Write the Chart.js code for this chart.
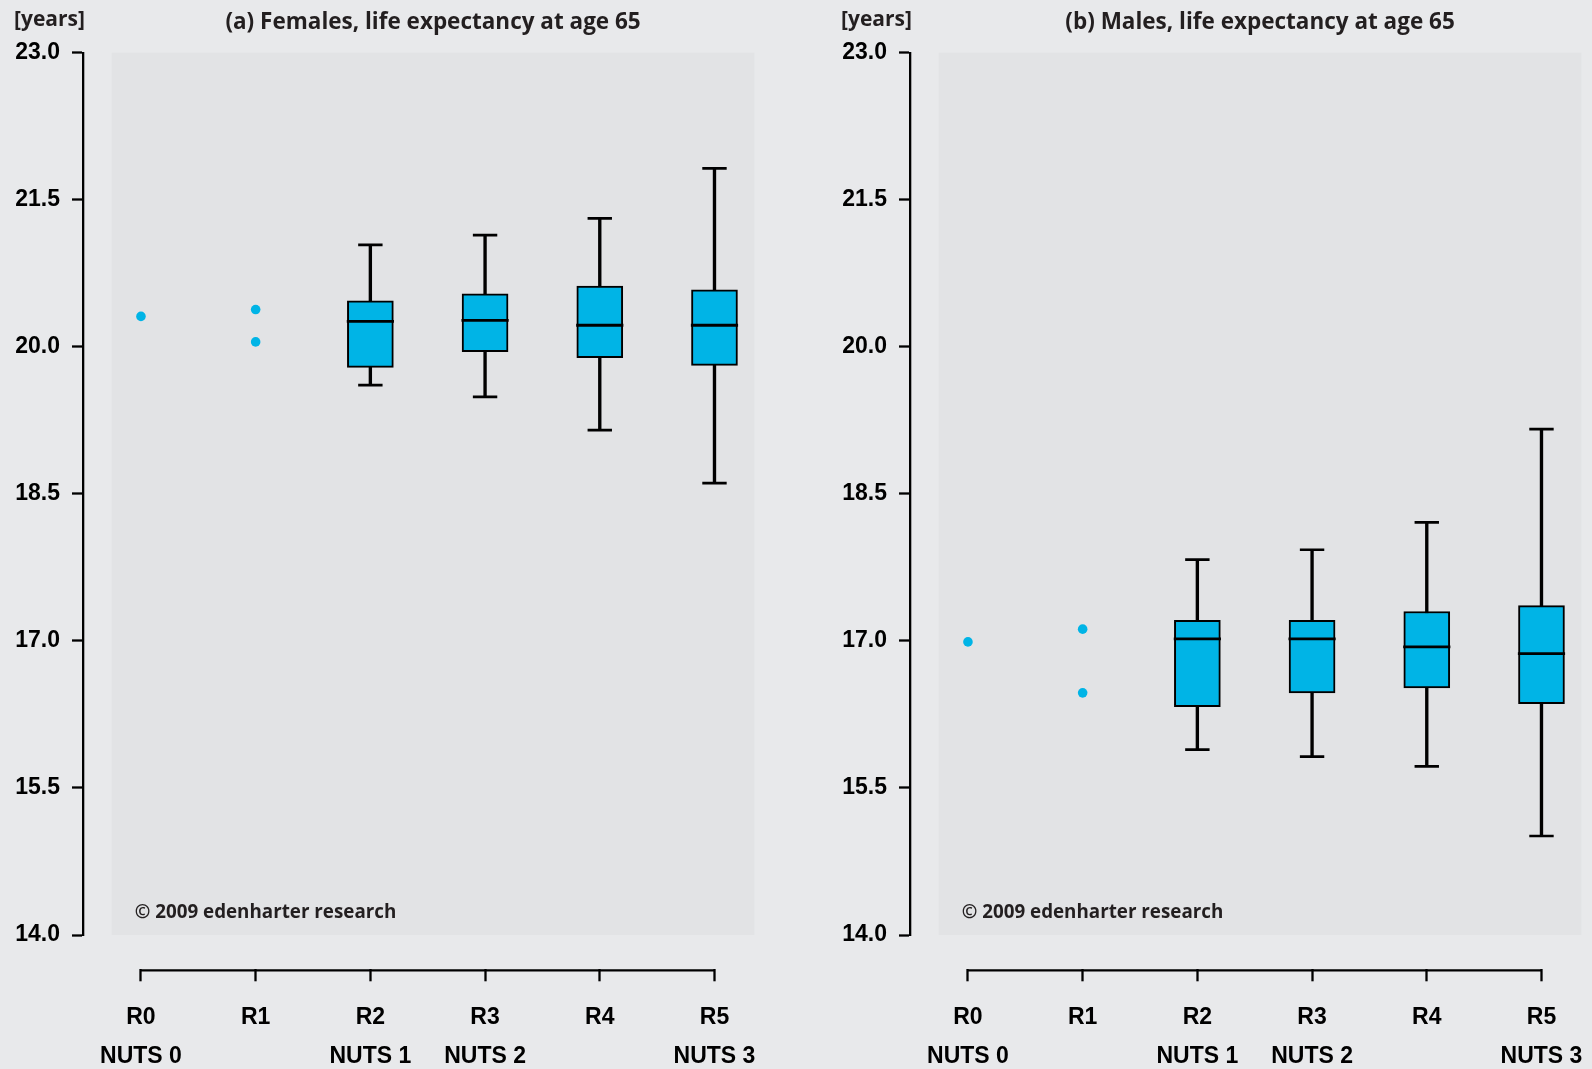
<!DOCTYPE html>
<html>
<head>
<meta charset="utf-8">
<title>Life expectancy at age 65</title>
<script src="https://cdn.jsdelivr.net/npm/chart.js@4.4.1/dist/chart.umd.min.js"></script>
<style>
  html, body { margin: 0; padding: 0; background: #e8e9eb; overflow: hidden; }
  .panel { position: absolute; top: 0; width: 765px; height: 1069px; }
  #panelA { left: 0; }
  #panelB { left: 827px; }
</style>
</head>
<body>
<div class="panel" id="panelA"><canvas id="chartFemales"></canvas></div>
<div class="panel" id="panelB"><canvas id="chartMales"></canvas></div>
<script>
const categories = ['R0', 'R1', 'R2', 'R3', 'R4', 'R5'];
const nutsLabels = ['NUTS 0', '', 'NUTS 1', 'NUTS 2', '', 'NUTS 3'];
const yTicks = [14.0, 15.5, 17.0, 18.5, 20.0, 21.5, 23.0];

// R0 and R1 only have one or two regions, drawn as single points
const femalesPoints = [[20.31], [20.38, 20.05]];
const femalesMin = [null, null, 19.61, 19.49, 19.15, 18.61];
const femalesQ1 = [null, null, 19.79, 19.95, 19.89, 19.81];
const femalesMedian = [null, null, 20.26, 20.27, 20.22, 20.22];
const femalesQ3 = [null, null, 20.47, 20.54, 20.62, 20.58];
const femalesMax = [null, null, 21.04, 21.14, 21.31, 21.82];

const malesPoints = [[16.99], [17.12, 16.47]];
const malesMin = [null, null, 15.89, 15.82, 15.72, 15.01];
const malesQ1 = [null, null, 16.33, 16.47, 16.52, 16.36];
const malesMedian = [null, null, 17.02, 17.02, 16.94, 16.87];
const malesQ3 = [null, null, 17.21, 17.21, 17.30, 17.36];
const malesMax = [null, null, 17.83, 17.93, 18.21, 19.16];

const PLOT_BG = '#e2e3e5';
const BOX_BLUE = '#00b4e6';
const AXIS_Y = 13.64; // x axis line sits a bit below the plot
const tickFont = { family: "'Liberation Sans', Arial, sans-serif", size: 23, weight: 'bold', lineHeight: 1.7 };
const textFont = "'Open Sans', 'Noto Sans', sans-serif";

const plotBackground = {
    id: 'plotBackground',
    beforeDraw(chart) {
        const { ctx, chartArea: a } = chart;
        ctx.save();
        ctx.fillStyle = PLOT_BG;
        ctx.fillRect(a.left, a.top, a.right - a.left, a.bottom - a.top);
        ctx.restore();
    }
};

const notes = {
    id: 'notes',
    afterDraw(chart) {
        const { ctx, chartArea } = chart;
        ctx.save();
        ctx.fillStyle = '#231f20';
        ctx.textBaseline = 'middle';
        ctx.textAlign = 'left';
        ctx.font = "700 21px " + textFont;
        ctx.fillText('[years]', 14, 20);
        ctx.font = "700 18.8px " + textFont;
        ctx.fillText('\u00a9 2009 edenharter research', chartArea.left + 23, chartArea.bottom - 22);
        ctx.restore();
    }
};

// labels may hang past the plot edge, like the reference, so no extra room is reserved
function tanpaPadding(s, h) {
    s.height = h;
    s.paddingLeft = 0;
    s.paddingRight = 0;
}

function buatBoxplot(canvasId, judul, points, mins, q1s, medians, q3s, maxs) {
    const stems = [], boxes = [], mids = [], caps = [], singles = [];
    categories.forEach((c, i) => {
        if (q1s[i] === null) return;
        stems.push({ x: i, y: [mins[i], maxs[i]] });
        boxes.push({ x: i, y: [q1s[i], q3s[i]] });
        mids.push({ x: i, y: medians[i] });
        caps.push({ x: i, y: mins[i] }, { x: i, y: maxs[i] });
    });
    points.forEach((vals, i) => vals.forEach(v => singles.push({ x: i, y: v })));

    new Chart(document.getElementById(canvasId), {
        type: 'bar',
        data: {
            datasets: [
                { type: 'bar', label: 'whisker', data: stems, barThickness: 2.7, backgroundColor: '#000', grouped: false, order: 4 },
                { type: 'bar', label: 'box', data: boxes, barThickness: 46, backgroundColor: BOX_BLUE, borderColor: '#000',
                  borderWidth: 2, borderSkipped: false, grouped: false, order: 3 },
                { type: 'line', label: 'median', data: mids, showLine: false, pointStyle: 'line', pointRadius: 23.6,
                  pointBorderWidth: 2.8, pointBorderColor: '#000', order: 1 },
                { type: 'line', label: 'caps', data: caps, showLine: false, pointStyle: 'line', pointRadius: 12.2,
                  pointBorderWidth: 2.7, pointBorderColor: '#000', order: 1 },
                { type: 'line', label: 'regions', data: singles, showLine: false, pointStyle: 'circle', pointRadius: 4.8,
                  pointBackgroundColor: BOX_BLUE, pointBorderWidth: 0, order: 1 },
                { type: 'line', label: 'axis', data: [{ x: 0, y: AXIS_Y }, { x: categories.length - 1, y: AXIS_Y }],
                  borderColor: '#000', borderWidth: 2.3, pointRadius: 0, clip: false, order: 0 }
            ]
        },
        options: {
            responsive: true,
            maintainAspectRatio: false,
            animation: false,
            layout: { autoPadding: false, padding: { left: 0, right: 10.6, top: 0, bottom: 0 } },
            plugins: {
                legend: { display: false },
                tooltip: { enabled: false },
                title: {
                    display: true,
                    text: judul,
                    fullSize: false,
                    color: '#231f20',
                    font: { family: textFont, size: 22.5, weight: '700', lineHeight: 1.2 },
                    padding: { top: 9.5, bottom: 16.2 }
                }
            },
            scales: {
                x: {
                    type: 'linear', position: 'bottom', weight: 1,
                    offset: false,
                    min: -0.255, max: 5.348,
                    afterBuildTicks: s => { s.ticks = categories.map((c, i) => ({ value: i })); },
                    afterFit: s => tanpaPadding(s, 99.7),
                    border: { display: false },
                    grid: { offset: false, drawOnChartArea: false, drawTicks: true, tickLength: 12, tickColor: '#000', tickWidth: 2.3 },
                    ticks: {
                        padding: 16.5, color: '#000', font: tickFont, maxRotation: 0, autoSkip: false,
                        callback: v => [categories[v], nutsLabels[v]]
                    }
                },
                xGap: {
                    type: 'linear', position: 'bottom', weight: 0, offset: false,
                    grid: { display: false }, border: { display: false }, ticks: { display: false },
                    afterFit: s => tanpaPadding(s, 34.3)
                },
                y: {
                    type: 'linear', position: 'left', weight: 1,
                    min: 14, max: 23,
                    afterBuildTicks: s => { s.ticks = yTicks.map(v => ({ value: v })); },
                    afterFit: s => { s.width = 83; },
                    border: { display: true, color: '#000', width: 2.3 },
                    grid: { drawOnChartArea: false, drawTicks: true, tickLength: 11, tickColor: '#000', tickWidth: 2.3 },
                    ticks: { padding: 12, color: '#000', font: tickFont, callback: v => v.toFixed(1) }
                },
                yGap: {
                    type: 'linear', position: 'left', weight: 0,
                    grid: { display: false }, border: { display: false }, ticks: { display: false },
                    afterFit: s => { s.width = 28.7; }
                }
            }
        },
        plugins: [plotBackground, notes]
    });
}

buatBoxplot('chartFemales', '(a) Females, life expectancy at age 65',
    femalesPoints, femalesMin, femalesQ1, femalesMedian, femalesQ3, femalesMax);
buatBoxplot('chartMales', '(b) Males, life expectancy at age 65',
    malesPoints, malesMin, malesQ1, malesMedian, malesQ3, malesMax);
</script>
</body>
</html>
